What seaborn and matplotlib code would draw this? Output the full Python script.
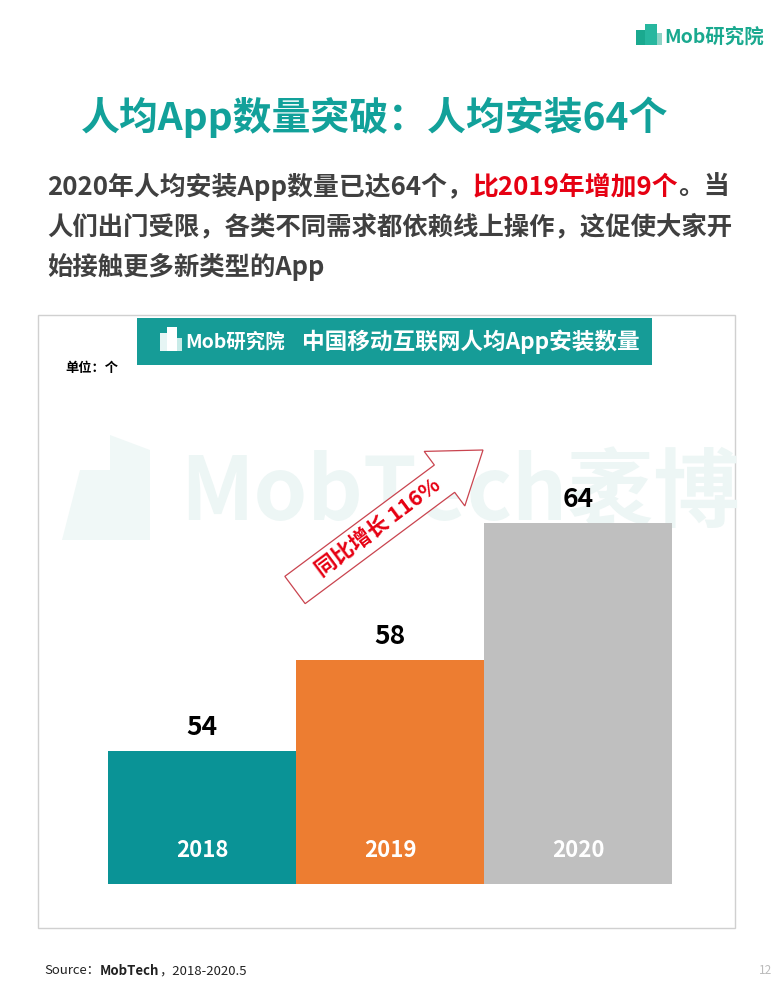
import matplotlib
matplotlib.use('Agg')
import matplotlib.pyplot as plt
import seaborn as sns
from matplotlib.patches import Rectangle, FancyArrow, Polygon

# datos
years = ['2018', '2019', '2020']
values = [54, 58, 64]
colors = ['#0a9396', '#ed7d31', '#bfbfbf']

title = '人均App数量突破：人均安装64个'
line1 = [('2020年人均安装App数量已达64个，', '#404040'),
         ('比2019年增加9个', '#e60012'),
         ('。当', '#404040')]
line2 = '人们出门受限，各类不同需求都依赖线上操作，这促使大家开'
line3 = '始接触更多新类型的App'
chart_title = '中国移动互联网人均App安装数量'
growth = '同比增长 116%'

sns.set_style('white')
plt.rcParams['font.family'] = ['Noto Sans CJK SC', 'DejaVu Sans']

teal = '#12a19a'

fig = plt.figure(figsize=(7.78, 10), dpi=100)
fig.patch.set_facecolor('white')

# fondo en coordenadas de pixel
bg = fig.add_axes([0, 0, 1, 1], zorder=0)
bg.set_xlim(0, 778)
bg.set_ylim(1000, 0)
bg.axis('off')

# logo arriba a la derecha
bg.add_patch(Rectangle((636, 30), 9, 15, color='#1aa98f', lw=0))
bg.add_patch(Rectangle((645, 24), 12, 21, color='#27b79f', lw=0))
bg.add_patch(Rectangle((657, 33), 5, 12, color='#8fd3c6', lw=0))
bg.text(664, 37, 'Mob研究院', fontsize=14, color='#1aa98f', fontweight='bold',
        style='italic', va='center', ha='left')

# titulo
bg.text(375, 117, title, fontsize=28, color=teal, fontweight='bold',
        ha='center', va='center')

# subtitulo
renderer = fig.canvas.get_renderer()
x = 47
for s, c in line1:
    t = bg.text(x, 187, s, fontsize=18.6, color=c, fontweight='bold',
                ha='left', va='center')
    x += t.get_window_extent(renderer).width
bg.text(47, 227, line2, fontsize=18.3, color='#404040', fontweight='bold',
        ha='left', va='center')
bg.text(47, 267, line3, fontsize=18.3, color='#404040', fontweight='bold',
        ha='left', va='center')

# marco del grafico
bg.add_patch(Rectangle((38, 315), 697, 613, fill=False, ec='#d0d0d0', lw=1))

# banner
bg.add_patch(Rectangle((137, 318), 515, 47, color='#169c97', lw=0))
bg.add_patch(Rectangle((160, 333), 7, 18, color='#e6f5f4', lw=0))
bg.add_patch(Rectangle((167, 327), 10, 24, color='white', lw=0))
bg.add_patch(Rectangle((177, 338), 5, 13, color='#c8ebe8', lw=0))
bg.text(185, 342, 'Mob研究院', fontsize=14, color='white', fontweight='bold',
        style='italic', va='center', ha='left')
bg.text(471, 342, chart_title, fontsize=16.3, color='white', fontweight='bold',
        ha='center', va='center')

bg.text(65, 368, '单位：个', fontsize=9.5, color='black', fontweight='bold',
        ha='left', va='center')

# marca de agua
bg.add_patch(Polygon([(62, 540), (80, 470), (110, 470), (110, 435), (150, 450),
                      (150, 540)], closed=True, color='#f0f8f7', lw=0))
bg.text(460, 495, 'MobTech袤博', fontsize=62, color='#edf6f5', fontweight='bold',
        style='italic', ha='center', va='center', zorder=1)

# flecha
arr = FancyArrow(295, 590, 188, -140, width=34, head_width=68, head_length=48,
                 length_includes_head=True, fc='white', ec='#c9444f', lw=0.9,
                 zorder=3)
bg.add_patch(arr)
bg.text(378, 527, growth, fontsize=15.5, color='#e60012', fontweight='bold',
        rotation=36.7, rotation_mode='anchor', ha='center', va='center', zorder=4)

# barras
ax = fig.add_axes([108 / 778, 116 / 1000, 564 / 778, 504 / 1000], zorder=1)
ax.patch.set_alpha(0)
sns.barplot(x=years, y=values, hue=years, palette=colors, width=1.0,
            saturation=1, legend=False, linewidth=0, ax=ax)
ax.set_xlim(-0.5, 2.5)
ax.set_ylim(48.15, 70.3)
ax.axis('off')

for i, v in enumerate(values):
    ax.annotate(str(v), (i, v), xytext=(0, 17), textcoords='offset points',
                ha='center', va='center', fontsize=19, fontweight='bold',
                color='black')
    ax.text(i, 0.067, years[i], transform=ax.get_xaxis_transform(),
            ha='center', va='center', fontsize=16, fontweight='bold',
            color='white')

# fuente
x = 44
for s, w in [('Source：', 'normal'), ('MobTech', 'bold'), ('，2018-2020.5', 'normal')]:
    t = bg.text(x, 971, s, fontsize=9.5, color='#222222', fontweight=w,
                ha='left', va='center')
    x += t.get_window_extent(renderer).width
bg.text(766, 971, '12', fontsize=8.5, color='#bbbbbb', ha='center', va='center')

fig.savefig('out.png', dpi=100)
